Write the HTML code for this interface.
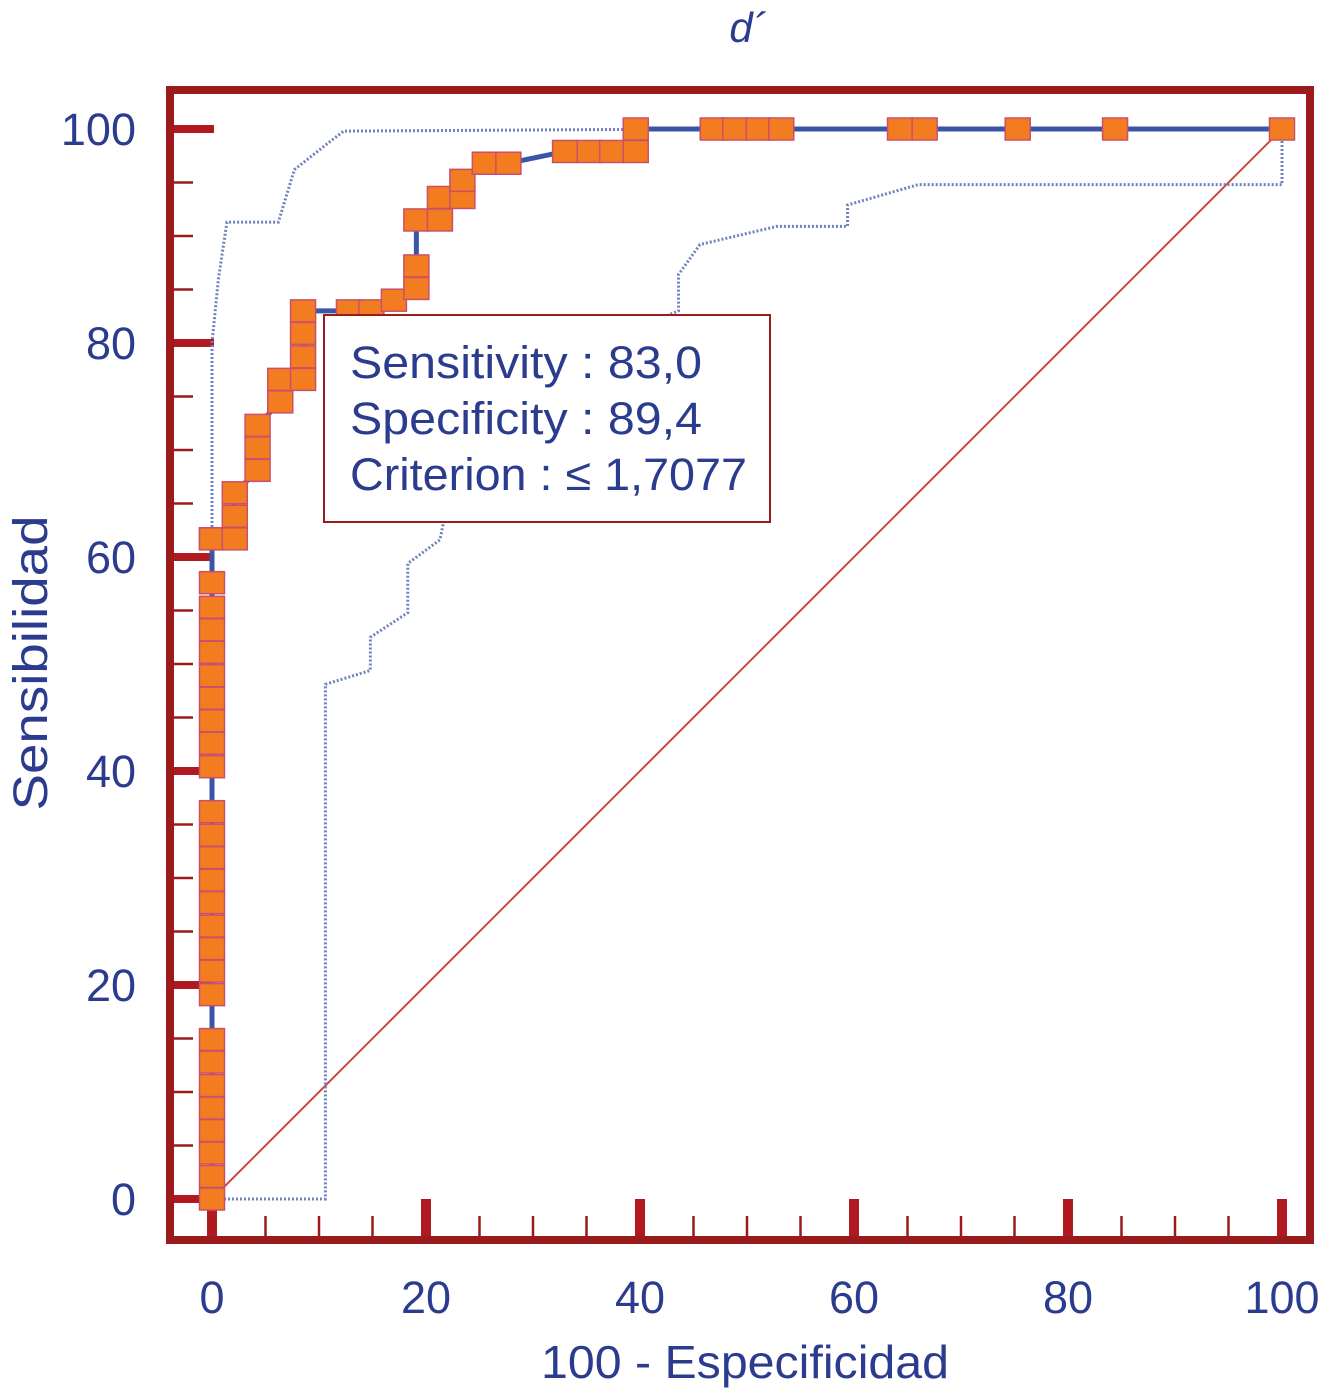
<!DOCTYPE html>
<html><head><meta charset="utf-8"><style>
body{margin:0;background:#fff}
svg text{font-family:"Liberation Sans",Arial,sans-serif;fill:#2b3c8e}
</style></head><body>
<svg width="1329" height="1391" viewBox="0 0 1329 1391" id="chart">
<text x="748" y="42" font-size="42" font-style="italic" text-anchor="middle">d´</text>
<rect x="170" y="90" width="1140" height="1150" fill="none" stroke="#9b1b1d" stroke-width="8"/>
<g id="ticks"></g>
<line id="diag" stroke="#c9473f" stroke-width="2"/>
<polyline id="upper" fill="none" stroke="#6f82bd" stroke-width="3" stroke-dasharray="2,2"/>
<polyline id="lower" fill="none" stroke="#6f82bd" stroke-width="3" stroke-dasharray="2,2"/>
<polyline id="roc" fill="none" stroke="#3a55a8" stroke-width="5"/>
<g id="markers"></g>
<g>
<rect x="324" y="315" width="446" height="207" fill="#fff" stroke="#9b1b1d" stroke-width="2"/>
<text x="350" y="378" font-size="45" textLength="352" lengthAdjust="spacingAndGlyphs">Sensitivity : 83,0</text>
<text x="350" y="434" font-size="45" textLength="352" lengthAdjust="spacingAndGlyphs">Specificity : 89,4</text>
<text x="350" y="490" font-size="45" textLength="397" lengthAdjust="spacingAndGlyphs">Criterion : ≤ 1,7077</text>
</g>
<g id="labels"></g>
<text x="745" y="1378" font-size="46" text-anchor="middle" textLength="408" lengthAdjust="spacingAndGlyphs">100 - Especificidad</text>
<text transform="translate(47,663) rotate(-90)" font-size="48" text-anchor="middle" textLength="295" lengthAdjust="spacingAndGlyphs">Sensibilidad</text>
</svg>
<script>
const rocX=[0,0,0,0,0,0,0,0,0,0,0,0,0,0,0,0,0,0,0,0,0,0,0,0,0,0,0,0,2.13,2.13,2.13,4.26,4.26,4.26,6.38,6.38,8.51,8.51,8.51,8.51,12.8,14.9,17.0,19.1,19.1,19.1,21.3,21.3,23.4,23.4,25.5,27.7,33.0,35.3,37.4,39.6,39.6,46.8,48.9,51.1,53.2,64.3,66.6,75.3,84.4,100];
const rocY=[0,2.1,4.3,6.4,8.5,10.6,12.8,14.9,19.1,21.3,23.4,25.5,27.7,29.8,31.9,34.0,36.2,40.4,42.6,44.7,46.8,48.9,51.1,53.2,55.3,57.6,61.7,61.7,61.7,63.8,66.0,68.1,70.2,72.3,74.5,76.6,76.6,78.7,80.9,83.0,83.0,83.0,84.0,85.1,87.2,91.5,91.5,93.6,93.6,95.2,96.8,96.8,97.9,97.9,97.9,97.9,100,100,100,100,100,100,100,100,100,100];
const upX=[0,0,0.6,1.4,6.2,7.7,11,12.3,45,100];
const upY=[0,80,86,91.3,91.3,96.2,98.8,99.8,100,100];
const loX=[0,10.6,10.6,14.8,14.8,18.3,18.3,21.3,21.8,31,43.6,43.6,45.6,52.8,59.4,59.4,66,100,100];
const loY=[0,0,48.1,49.4,52.5,54.8,59.4,61.6,64,78,83,86.4,89.2,90.9,90.9,92.9,94.8,94.8,100];
const yTicks=[0,20,40,60,80,100];
const xTicks=[0,20,40,60,80,100];
const NS='http://www.w3.org/2000/svg';
const sx=v=>212+v*10.7, sy=v=>1199-v*10.7;
function mk(t,a,p){const e=document.createElementNS(NS,t);for(const k in a)e.setAttribute(k,a[k]);p.appendChild(e);return e;}
const pts=(xs,ys)=>xs.map((x,i)=>sx(x)+','+sy(ys[i])).join(' ');
document.getElementById('roc').setAttribute('points',pts(rocX,rocY));
document.getElementById('upper').setAttribute('points',pts(upX,upY));
document.getElementById('lower').setAttribute('points',pts(loX,loY));
const d=document.getElementById('diag');
d.setAttribute('x1',sx(0));d.setAttribute('y1',sy(0));d.setAttribute('x2',sx(100));d.setAttribute('y2',sy(100));
const mg=document.getElementById('markers');
rocX.forEach((x,i)=>{
 const r=mk('rect',{x:sx(x)-12.5,y:sy(rocY[i])-11,width:25,height:22,fill:'#f47c20',stroke:'#c9506a','stroke-width':1.5},mg);
 
 
});
const tg=document.getElementById('ticks'), lg=document.getElementById('labels');
for(let v=0;v<=100;v+=5){
 const maj=v%20===0;
 const t=mk('line',{x1:174,x2:maj?214:193,y1:sy(v),y2:sy(v),stroke:maj?'#b0191f':'#9b1b1d','stroke-width':maj?8:2.5},tg);
 
 
 const u=mk('line',{x1:sx(v),x2:sx(v),y1:maj?1199:1216,y2:1236,stroke:maj?'#b0191f':'#9b1b1d','stroke-width':maj?10:2.5},tg);
 
 
}
yTicks.forEach(v=>{
 const t=mk('text',{x:136,y:sy(v)+16,'font-size':45,'text-anchor':'end'},lg);t.textContent=v;
 
 
});
xTicks.forEach(v=>{
 const t=mk('text',{x:sx(v),y:1313,'font-size':45,'text-anchor':'middle'},lg);t.textContent=v;
 
 
});
</script>
</body></html>
